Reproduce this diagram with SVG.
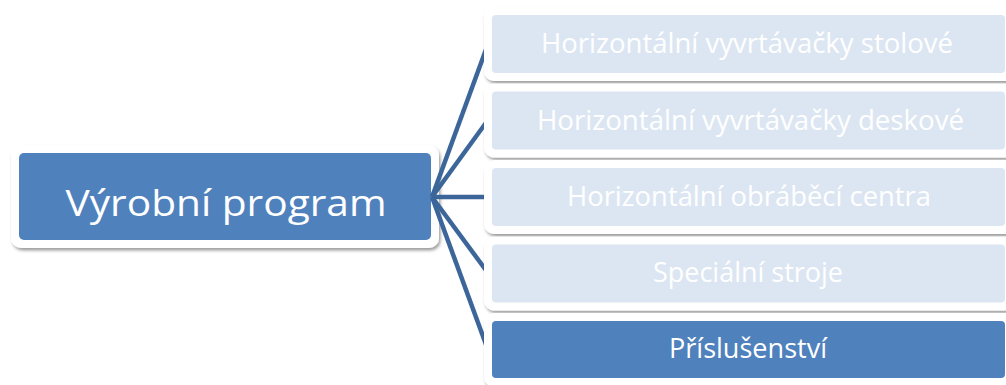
<svg xmlns="http://www.w3.org/2000/svg" width="1006" height="385" viewBox="0 0 1006 385">
  <defs>
    <filter id="soft-shadow" x="-10%" y="-20%" width="120%" height="150%">
      <feDropShadow dx="1.5" dy="2.5" stdDeviation="1.8" flood-color="#000" flood-opacity="0.38"/>
    </filter>
  </defs>
  <style>
    .frame { fill: #ffffff; filter: url(#soft-shadow); }
    .dark { fill: #4f81bd; }
    .light { fill: #dce6f2; }
    .label { font-family: "Open Sans", "Liberation Sans", sans-serif; fill: #ffffff; text-anchor: middle; }
    .big { font-size: 37px; }
    .small { font-size: 27px; }
    .link { stroke: #3c6699; stroke-width: 4.5; fill: none; stroke-linecap: butt; }
  </style>

  <rect width="1006" height="385" fill="#ffffff"/>

  <!-- root node -->
  <g id="node-root">
    <rect class="frame" x="11" y="145" width="428" height="103" rx="10"/>
    <rect class="dark" x="19" y="153" width="412" height="87" rx="5"/>
    <text class="label big" x="226" y="216" textLength="321" lengthAdjust="spacingAndGlyphs">Výrobní program</text>
  </g>

  <!-- connectors fanning out from the root -->
  <g id="connectors">
    <line class="link" x1="432" y1="197" x2="488" y2="44"/>
    <line class="link" x1="432" y1="197" x2="488" y2="120"/>
    <line class="link" x1="432" y1="197" x2="488" y2="197"/>
    <line class="link" x1="432" y1="197" x2="488" y2="273"/>
    <line class="link" x1="432" y1="197" x2="488" y2="350"/>
  </g>

  <!-- child nodes -->
  <g id="node-stolove">
    <rect class="frame" x="484" y="7" width="540" height="74" rx="10"/>
    <rect class="light" x="492" y="15" width="513" height="58" rx="4"/>
    <text class="label small" x="747" y="53" textLength="412" lengthAdjust="spacingAndGlyphs">Horizontální vyvrtávačky stolové</text>
  </g>
  <g id="node-deskove">
    <rect class="frame" x="484" y="83.5" width="540" height="74" rx="10"/>
    <rect class="light" x="492" y="91.5" width="513" height="58" rx="4"/>
    <text class="label small" x="750.5" y="130" textLength="427" lengthAdjust="spacingAndGlyphs">Horizontální vyvrtávačky deskové</text>
  </g>
  <g id="node-centra">
    <rect class="frame" x="484" y="160" width="540" height="74" rx="10"/>
    <rect class="light" x="492" y="168" width="513" height="58" rx="4"/>
    <text class="label small" x="749" y="205.5" textLength="364" lengthAdjust="spacingAndGlyphs">Horizontální obráběcí centra</text>
  </g>
  <g id="node-specialni">
    <rect class="frame" x="484" y="236.5" width="540" height="74" rx="10"/>
    <rect class="light" x="492" y="244.5" width="513" height="58" rx="4"/>
    <text class="label small" x="748" y="282" textLength="190" lengthAdjust="spacingAndGlyphs">Speciální stroje</text>
  </g>
  <g id="node-prislusenstvi">
    <rect class="frame" x="484" y="313" width="540" height="74" rx="10"/>
    <rect class="dark" x="492" y="321" width="513" height="57" rx="4"/>
    <text class="label small" x="748" y="357.5" textLength="158" lengthAdjust="spacingAndGlyphs">Příslušenství</text>
  </g>
</svg>
